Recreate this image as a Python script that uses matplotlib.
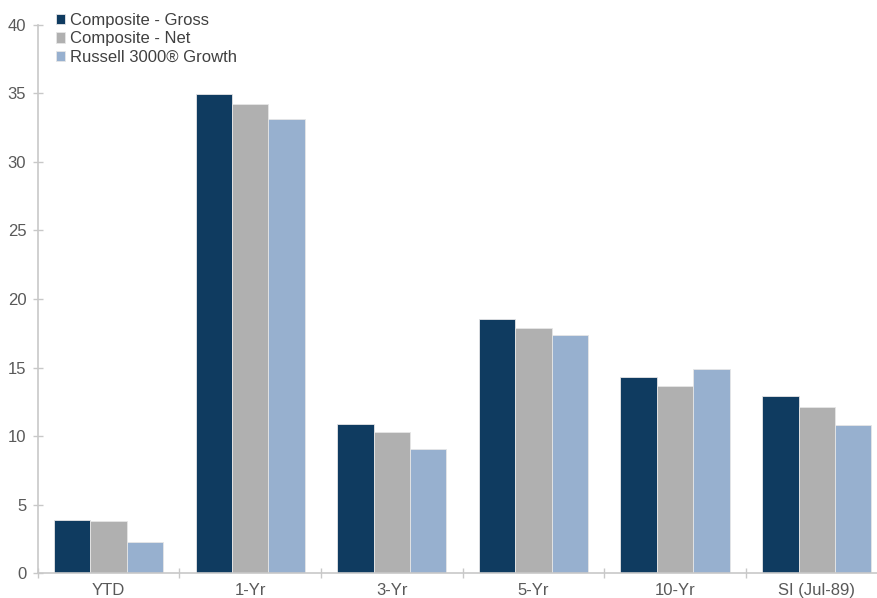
import numpy as np
import matplotlib.pyplot as plt

plt.rcParams['font.family'] = ['Liberation Sans', 'DejaVu Sans']

categories = ['YTD', '1-Yr', '3-Yr', '5-Yr', '10-Yr', 'SI (Jul-89)']
gross = [3.87, 34.94, 10.88, 18.54, 14.33, 12.94]
net = [3.80, 34.26, 10.29, 17.88, 13.63, 12.14]
russell = [2.26, 33.16, 9.05, 17.37, 14.91, 10.78]

series = [
    ('Composite - Gross', gross, '#0f3b60'),
    ('Composite - Net', net, '#b0b0b0'),
    ('Russell 3000\u00ae Growth', russell, '#97b0cf'),
]

fig = plt.figure(figsize=(8.77, 5.98), dpi=100)
ax = fig.add_axes([0.043, 0.0418, 0.969, 0.9164])

x = np.arange(len(categories))
w = 0.257
for i, (name, vals, col) in enumerate(series):
    ax.bar(x + (i - 1) * w, vals, w, color=col, label=name,
           edgecolor='#e6e6e6', linewidth=0.6)

ax.set_xlim(-0.5, len(categories) - 0.5)
ax.set_ylim(0, 40)
ax.set_yticks(range(0, 41, 5))

# category ticks sit between the groups, labels at the centres
ax.set_xticks(np.arange(-0.5, len(categories), 1.0))
ax.set_xticklabels([])
ax.set_xticks(x, minor=True)
ax.set_xticklabels(categories, minor=True)
ax.tick_params(axis='x', which='minor', length=0, pad=7)

for s in ['top', 'right']:
    ax.spines[s].set_visible(False)
for s in ['left', 'bottom']:
    ax.spines[s].set_color('#c8c8c8')
    ax.spines[s].set_linewidth(1.2)

ax.tick_params(axis='both', which='major', direction='inout', length=6.5,
               color='#c8c8c8', width=1.0)
ax.tick_params(axis='both', which='both', labelsize=12, labelcolor='#595959')
ax.tick_params(axis='y', pad=5)

ax.legend(loc='upper left', bbox_to_anchor=(0.01, 1.04), frameon=False,
          fontsize=12, labelcolor='#404040', handlelength=0.55,
          handleheight=0.55, handletextpad=0.25, labelspacing=0.2,
          borderaxespad=0.2)

fig.savefig('out.png', dpi=100)
